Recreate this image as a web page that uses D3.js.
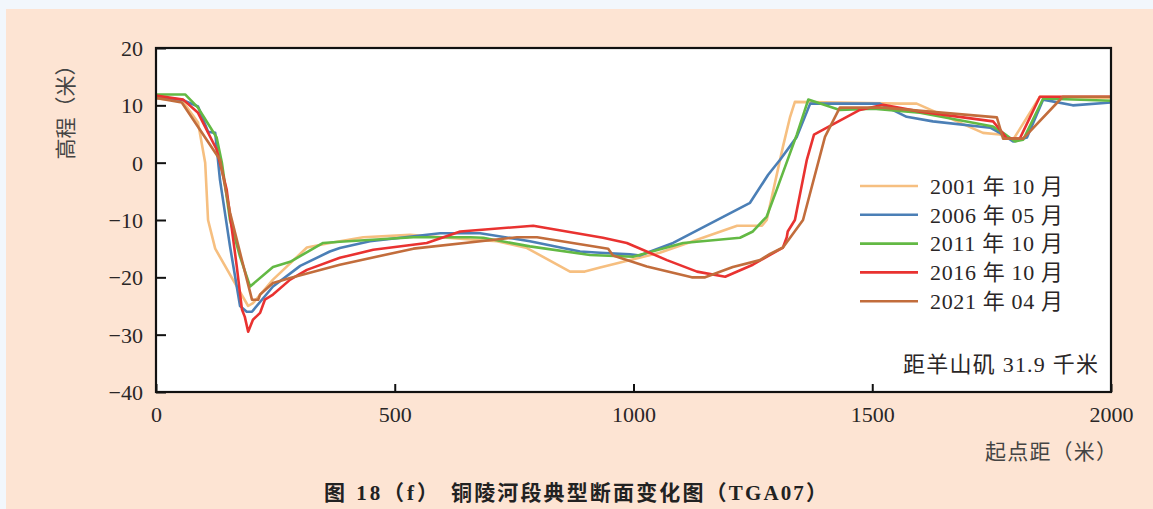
<!DOCTYPE html>
<html><head><meta charset="utf-8">
<script src="https://cdn.jsdelivr.net/npm/d3@7"></script>
<style>
html,body{margin:0;padding:0;background:#f2f7fc;}
svg{display:block;}
</style></head>
<body>
<svg id="c" width="1153" height="509"></svg>
<script>
const xTicks = [0, 500, 1000, 1500, 2000];
const yTicks = [20, 10, 0, -10, -20, -30, -40];
const seriesNames = ["2001 年 10 月", "2006 年 05 月", "2011 年 10 月", "2016 年 10 月", "2021 年 04 月"];
const seriesColors = ["#f6bf80", "#4b7fb6", "#63b944", "#e93230", "#c26d3c"];

const x2001 = [0, 55, 88, 103, 109, 124, 161, 193, 203, 245, 316, 364, 434, 532, 658, 714, 777, 867, 898, 930, 1055, 1217, 1269, 1279, 1313, 1328, 1338, 1558, 1593, 1732, 1767, 1795, 1851, 2000];
const y2001 = [11.2, 10.8, 7, 0, -10, -15, -20.4, -25, -24.5, -20.4, -14.8, -14, -13, -12.6, -13.4, -13.7, -14.9, -19, -19, -18.3, -15.7, -11, -11, -10, 2.8, 8, 10.6, 10.3, 10.3, 5.2, 4.9, 4, 11.5, 11.3];

const x2006 = [0, 54, 88, 109, 124, 134, 155, 176, 190, 201, 245, 302, 364, 385, 448, 595, 679, 783, 888, 930, 993, 1013, 1083, 1244, 1282, 1307, 1342, 1370, 1516, 1572, 1627, 1747, 1767, 1795, 1824, 1858, 1920, 2000];
const y2006 = [11.3, 11, 9.8, 5.4, 5.2, -3, -14.6, -25, -26, -26, -21.6, -18, -15.5, -14.9, -13.7, -12.3, -12.3, -13.7, -15.5, -15.7, -16, -16.2, -14, -7, -2.1, 0.5, 4.5, 10.3, 10.3, 8, 7.2, 6.1, 5.2, 3.7, 4.4, 11, 10, 10.5];

const x2011 = [0, 61, 88, 127, 138, 155, 176, 197, 245, 281, 350, 385, 539, 658, 685, 783, 909, 999, 1104, 1223, 1250, 1279, 1300, 1342, 1366, 1432, 1502, 1600, 1753, 1774, 1799, 1816, 1858, 2000];
const y2011 = [11.9, 11.9, 9.6, 4.4, 0, -10, -16.4, -21.6, -18.2, -17.3, -14, -13.8, -13, -13, -13.1, -14.6, -16.1, -16.4, -14, -13.1, -12, -9.4, -4.7, 4.9, 11, 9.2, 9.4, 8.7, 6.3, 5.2, 3.7, 4, 11.2, 10.8];

const x2016 = [0, 57, 88, 127, 148, 169, 180, 186, 193, 203, 218, 228, 245, 281, 316, 385, 455, 567, 637, 790, 936, 986, 1070, 1133, 1192, 1250, 1313, 1321, 1323, 1338, 1363, 1378, 1405, 1474, 1523, 1600, 1753, 1767, 1782, 1809, 1851, 2000];
const y2016 = [11.7, 11, 8.7, 2.3, -4.7, -18, -25.6, -26.9, -29.5, -27.4, -26.2, -23.9, -23, -20.4, -18.7, -16.6, -15.2, -14, -12, -11, -13.1, -14, -17, -19, -19.9, -17.8, -14.8, -13, -12, -10, 0.5, 4.9, 6.1, 9.2, 10.1, 8.9, 7.2, 5.8, 4.2, 4.2, 11.5, 11.5];

const x2021 = [0, 54, 134, 155, 176, 201, 214, 218, 245, 281, 385, 539, 756, 798, 947, 957, 1028, 1122, 1150, 1208, 1265, 1286, 1313, 1355, 1401, 1432, 1523, 1761, 1774, 1816, 1899, 2000];
const y2021 = [11.3, 10.5, 0.5, -8.7, -15.7, -23.9, -23.9, -23, -21, -20.1, -17.8, -15, -13, -13, -15, -16.2, -18.1, -20, -20, -18.2, -17, -15.9, -14.8, -10, 4.5, 9.6, 9.6, 7.9, 4.2, 4.2, 11.5, 11.5];

const seriesX = [x2001, x2006, x2011, x2016, x2021];
const seriesY = [y2001, y2006, y2011, y2016, y2021];

const svg = d3.select("#c");
const W = 1153, H = 509;
const serif = "'Liberation Serif','Noto Sans CJK SC',serif";
const txt = "#2a2626";

// background
svg.append("rect").attr("x", 6).attr("y", 9).attr("width", W - 6).attr("height", H - 9).attr("fill", "#fde4d3");

const pl = 156, pr = 1111, pt = 48, pb = 392;
const x = d3.scaleLinear().domain([0, 2000]).range([pl, pr]);
const y = d3.scaleLinear().domain([-40, 20]).range([pb, pt]);

svg.append("rect").attr("x", pl).attr("y", pt).attr("width", pr - pl).attr("height", pb - pt).attr("fill", "#fff");

svg.append("clipPath").attr("id", "pc").append("rect")
  .attr("x", pl).attr("y", pt).attr("width", pr - pl).attr("height", pb - pt);

const line = d3.line().x(d => x(d[0])).y(d => y(d[1]));
const g = svg.append("g").attr("clip-path", "url(#pc)");
seriesX.forEach((xs, i) => {
  const pts = xs.map((v, j) => [v, seriesY[i][j]]);
  g.append("path").datum(pts).attr("d", line).attr("fill", "none")
    .attr("stroke", seriesColors[i]).attr("stroke-width", 2.6).attr("stroke-linejoin", "round");
});

// axes
const yAxis = d3.axisLeft(y).tickValues(yTicks).tickSizeInner(-10).tickSizeOuter(0)
  .tickFormat(d => d < 0 ? "\u2212" + Math.abs(d) : String(d)).tickPadding(13);
const ya = svg.append("g").attr("transform", `translate(${pl},0)`).call(yAxis);
ya.select(".domain").remove();
ya.selectAll(".tick line").attr("stroke", "#111").attr("stroke-width", 2);
ya.selectAll(".tick text").attr("font-family", serif).attr("font-size", 22).attr("fill", txt).attr("dy", "0.34em");

const xAxis = d3.axisBottom(x).tickValues(xTicks).tickFormat(d3.format("d")).tickSizeInner(-8).tickSizeOuter(0).tickPadding(14);
const xa = svg.append("g").attr("transform", `translate(0,${pb})`).call(xAxis);
xa.select(".domain").remove();
xa.selectAll(".tick line").attr("stroke", "#111").attr("stroke-width", 2);
xa.selectAll(".tick text").attr("font-family", serif).attr("font-size", 22).attr("fill", txt);

// frame
svg.append("rect").attr("x", pl).attr("y", pt).attr("width", pr - pl).attr("height", pb - pt)
  .attr("fill", "none").attr("stroke", "#111").attr("stroke-width", 2.2);

// legend
const lg = svg.append("g");
seriesNames.forEach((n, i) => {
  const yy = 186 + i * 28.8;
  lg.append("line").attr("x1", 860).attr("x2", 918).attr("y1", yy).attr("y2", yy)
    .attr("stroke", seriesColors[i]).attr("stroke-width", 2.6);
  lg.append("text").attr("x", 930).attr("y", yy).attr("dy", "0.35em")
    .attr("font-family", serif).attr("font-size", 22).attr("fill", txt)
    .attr("textLength", 133).attr("lengthAdjust", "spacing").text(n);
});
svg.append("text").attr("x", 903).attr("y", 364).attr("dy", "0.35em")
  .attr("font-family", serif).attr("font-size", 22).attr("fill", txt)
  .attr("textLength", 195).attr("lengthAdjust", "spacing").text("距羊山矶 31.9 千米");

// axis titles
svg.append("text").attr("transform", "translate(66,107) rotate(-90)").attr("text-anchor", "middle")
  .attr("dy", "0.35em").attr("font-family", serif).attr("font-size", 21).attr("fill", "#444").text("高程（米）");
svg.append("text").attr("x", 985).attr("y", 452).attr("dy", "0.35em")
  .attr("font-family", serif).attr("font-size", 21).attr("fill", "#444")
  .attr("textLength", 132).attr("lengthAdjust", "spacing").text("起点距（米）");

// title
svg.append("text").attr("x", 324).attr("y", 493).attr("dy", "0.35em")
  .attr("font-family", serif).attr("font-size", 21).attr("font-weight", "bold").attr("fill", "#222")
  .attr("textLength", 114).attr("lengthAdjust", "spacing").text("图 18（f）");
svg.append("text").attr("x", 451).attr("y", 493).attr("dy", "0.35em")
  .attr("font-family", serif).attr("font-size", 21).attr("font-weight", "bold").attr("fill", "#222")
  .attr("textLength", 376).attr("lengthAdjust", "spacing").text("铜陵河段典型断面变化图（TGA07）");
</script>
</body></html>
